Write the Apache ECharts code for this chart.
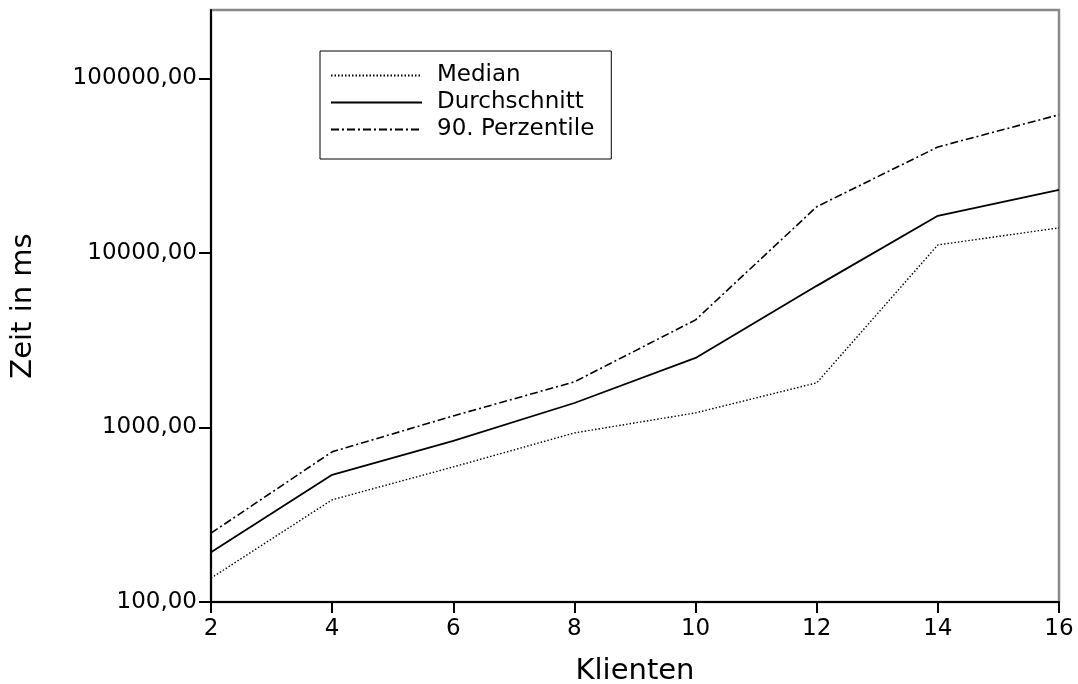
<!DOCTYPE html>
<html><head><meta charset="utf-8">
<script src="https://cdn.jsdelivr.net/npm/echarts@6/dist/echarts.min.js"></script>
<style>html,body{margin:0;padding:0;background:#fff}#c{width:1078px;height:684px}</style>
</head><body><div id="c"></div>
<script>
var categories = [2, 4, 6, 8, 10, 12, 14, 16];
var median = [137, 385, 594, 930, 1211, 1800, 11100, 13900];
var durchschnitt = [193, 535, 837, 1380, 2500, 6470, 16300, 22960];
var perzentil90 = [248, 725, 1164, 1824, 4130, 18370, 40400, 61800];
var seriesNames = ['Median', 'Durchschnitt', '90. Perzentile'];
var yTicks = [100, 1000, 10000, 100000];

function pairs(vals) { return categories.map(function (c, i) { return [c, vals[i]]; }); }

var font = 'DejaVu Sans';
var chart = echarts.init(document.getElementById('c'), null, {renderer: 'canvas'});
function fmt(v) {
  var l = Math.log10(v);
  if (Math.abs(l - Math.round(l)) > 1e-6) return '';
  return Math.pow(10, Math.round(l)).toFixed(2).replace('.', ',');
}
chart.setOption({
  animation: false,
  backgroundColor: '#fff',
  grid: {left: 211, right: 19, top: 10, bottom: 82, show: true, borderColor: '#8a8a8a', borderWidth: 2.5,
         backgroundColor: 'transparent', containLabel: false, outerBoundsMode: 'none'},
  legend: {
    orient: 'vertical', left: 320, top: 51,
    borderColor: '#000', borderWidth: 1, padding: [13, 17, 18, 10],
    itemWidth: 91, itemHeight: 0.1, itemGap: 4,
    itemStyle: {opacity: 0},
    textStyle: {fontFamily: font, fontSize: 23, color: '#000', padding: [0, 0, 0, 10]},
    data: seriesNames
  },
  xAxis: {
    type: 'value', min: 2, max: 16, interval: 2,
    name: 'Klienten', nameLocation: 'middle', nameGap: 55,
    nameTextStyle: {fontFamily: font, fontSize: 29, color: '#000'},
    axisLine: {show: true, onZero: false, lineStyle: {color: '#000', width: 2}},
    axisTick: {show: true, inside: false, length: 11, lineStyle: {color: '#000', width: 2}},
    axisLabel: {fontFamily: font, fontSize: 23, color: '#000', margin: 16},
    splitLine: {show: false}
  },
  yAxis: {
    type: 'log', logBase: 10, min: 100, max: 246000,
    name: 'Zeit in ms', nameLocation: 'middle', nameGap: 173,
    nameTextStyle: {fontFamily: font, fontSize: 29, color: '#000'},
    axisLine: {show: true, lineStyle: {color: '#000', width: 2}},
    axisTick: {show: true, length: 12, lineStyle: {color: '#000', width: 2}, customValues: yTicks},
    axisLabel: {fontFamily: font, fontSize: 23, color: '#000', margin: 14, formatter: fmt, customValues: yTicks},
    splitLine: {show: false},
    minorTick: {show: false}
  },
  series: [
    {name: seriesNames[0], type: 'line', data: pairs(median), symbol: 'none', color: '#000',
     lineStyle: {color: '#000', width: 1.4, type: [1.5, 2]}},
    {name: seriesNames[1], type: 'line', data: pairs(durchschnitt), symbol: 'none', color: '#000',
     lineStyle: {color: '#000', width: 1.8, type: 'solid'}},
    {name: seriesNames[2], type: 'line', data: pairs(perzentil90), symbol: 'none', color: '#000',
     lineStyle: {color: '#000', width: 1.6, type: [8, 3, 2, 3]}}
  ]
});
</script></body></html>
